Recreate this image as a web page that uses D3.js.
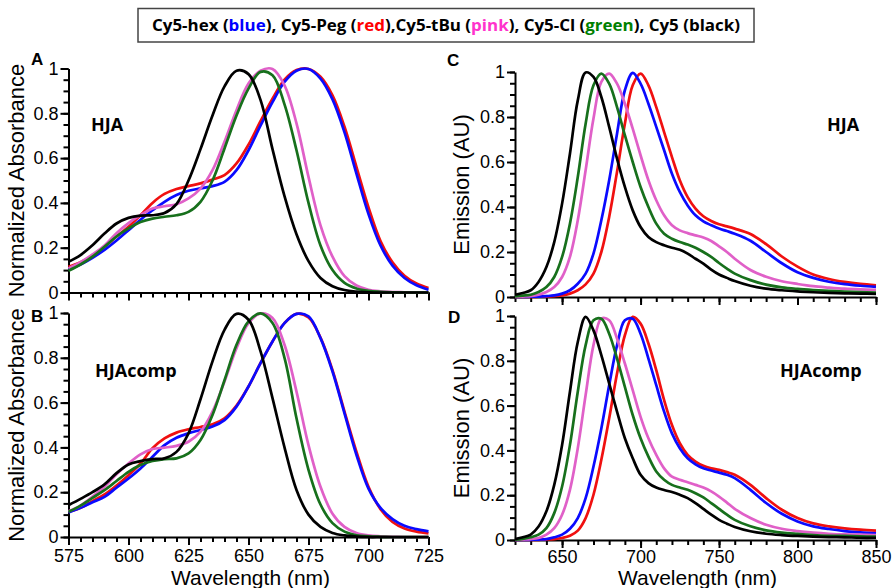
<!DOCTYPE html>
<html><head><meta charset="utf-8">
<script src="https://cdn.jsdelivr.net/npm/d3@7"></script>
<style>body{margin:0;background:#fff;} svg{display:block;}</style>
</head><body><svg id="c" width="893" height="588"></svg>
<script>
// ---------- DATA ----------
const absWl = [575,580,585,590,595,600,605,610,615,620,625,630,635,640,645,650,655,660,665,670,675,680,685,690,695,700,705,710,715,720,725];
const A_blue  = [.103,.125,.155,.19,.232,.278,.325,.367,.405,.435,.454,.465,.475,.494,.546,.635,.745,.85,.94,.99,.998,.955,.862,.715,.53,.35,.21,.12,.065,.032,.012];
const A_red   = [.115,.135,.165,.204,.25,.293,.345,.40,.44,.462,.475,.487,.504,.524,.576,.66,.765,.865,.95,.993,.998,.963,.88,.74,.56,.38,.23,.135,.075,.04,.02];
const A_pink  = [.107,.135,.17,.21,.265,.31,.345,.375,.385,.394,.42,.464,.546,.673,.814,.933,.99,.998,.925,.755,.516,.30,.16,.073,.031,.012,.005,.002,.001,0,0];
const A_green = [.097,.125,.16,.204,.25,.286,.315,.33,.338,.345,.36,.405,.50,.643,.79,.91,.985,.97,.84,.635,.40,.21,.10,.043,.018,.007,.003,.001,0,0,0];
const A_black = [.137,.167,.211,.263,.308,.333,.343,.345,.355,.395,.50,.64,.79,.92,.99,.975,.86,.64,.43,.26,.14,.065,.028,.011,.004,.001,0,0,0,0,0];

const B_blue  = [.109,.13,.155,.179,.22,.261,.306,.358,.41,.443,.463,.478,.493,.522,.582,.672,.776,.873,.955,.996,.985,.888,.739,.552,.366,.216,.13,.08,.05,.035,.025];
const B_red   = [.112,.13,.16,.19,.23,.276,.328,.396,.44,.466,.481,.491,.503,.53,.587,.672,.776,.873,.955,.996,.98,.89,.745,.56,.38,.224,.124,.067,.038,.024,.016];
const B_pink  = [.115,.14,.18,.224,.28,.328,.369,.393,.399,.407,.425,.47,.56,.694,.843,.955,.998,.978,.858,.649,.41,.224,.104,.045,.018,.007,.003,.001,0,0,0];
const B_green = [.112,.14,.175,.209,.25,.291,.321,.339,.348,.351,.373,.433,.545,.70,.858,.963,.998,.955,.8,.53,.30,.145,.062,.024,.008,.003,.001,0,0,0,0];
const B_black = [.142,.17,.2,.235,.285,.324,.339,.348,.351,.38,.463,.615,.784,.925,.996,.97,.83,.62,.40,.21,.10,.045,.018,.007,.002,0,0,0,0,0,0];

const emWl = [620,625,630,635,640,645,650,655,660,665,670,675,680,685,690,695,700,705,710,715,720,725,730,735,740,745,750,755,760,770,780,790,800,810,820,830,840,850];
const C_blue  = [0,0,.001,.002,.004,.007,.015,.03,.059,.104,.193,.341,.519,.726,.919,.996,.948,.859,.756,.652,.548,.467,.407,.363,.336,.319,.304,.293,.281,.25,.2,.15,.11,.085,.068,.057,.05,.045];
const C_red   = [0,0,0,.001,.002,.004,.007,.015,.03,.056,.104,.20,.356,.556,.77,.941,.993,.941,.844,.733,.622,.519,.444,.393,.359,.338,.323,.314,.304,.28,.235,.18,.135,.1,.08,.067,.058,.052];
const C_pink  = [0,.002,.004,.01,.022,.044,.089,.178,.341,.563,.793,.956,.993,.948,.859,.748,.63,.519,.43,.363,.319,.296,.284,.274,.264,.249,.225,.20,.17,.12,.09,.07,.058,.048,.042,.037,.034,.032];
const C_green = [.003,.006,.01,.022,.044,.089,.178,.326,.533,.77,.941,.993,.948,.844,.719,.60,.489,.40,.326,.281,.259,.244,.233,.219,.20,.178,.151,.126,.104,.075,.055,.043,.036,.031,.027,.024,.022,.02];
const C_black = [.01,.018,.03,.067,.133,.244,.415,.637,.874,.998,.978,.889,.756,.615,.489,.385,.311,.267,.244,.23,.219,.21,.193,.17,.148,.122,.10,.085,.071,.05,.037,.03,.025,.021,.018,.016,.015,.014];

const D_blue  = [0,0,.001,.002,.004,.012,.024,.05,.098,.187,.328,.498,.691,.869,.981,.988,.921,.81,.691,.573,.476,.41,.365,.338,.32,.31,.301,.291,.276,.224,.165,.117,.083,.061,.049,.04,.034,.03];
const D_red   = [0,0,0,.001,.002,.004,.009,.019,.042,.098,.202,.358,.543,.743,.914,.996,.966,.877,.758,.625,.513,.432,.38,.35,.331,.32,.313,.303,.291,.246,.187,.135,.098,.074,.061,.052,.046,.042];
const D_pink  = [0,.002,.004,.009,.024,.053,.113,.224,.41,.647,.87,.988,.981,.899,.788,.669,.55,.454,.38,.32,.283,.269,.258,.246,.234,.217,.194,.167,.139,.098,.068,.05,.04,.033,.028,.025,.024,.022];
const D_green = [.001,.005,.012,.024,.053,.12,.239,.424,.662,.87,.981,.988,.921,.81,.684,.558,.454,.372,.306,.269,.246,.234,.224,.209,.19,.165,.139,.113,.09,.061,.043,.033,.027,.022,.019,.018,.016,.015];
const D_black = [.004,.012,.024,.06,.128,.246,.424,.662,.884,.996,.936,.825,.699,.573,.454,.365,.291,.254,.234,.223,.214,.202,.187,.165,.139,.113,.09,.073,.058,.039,.028,.022,.018,.015,.013,.012,.01,.01];

const absTicks = [575,600,625,650,675,700,725];
const emTicks = [650,700,750,800,850];
const yTickVals = [0,0.2,0.4,0.6,0.8,1];
const yTickLabels = ["0","0.2","0.4","0.6","0.8","1"];
const seriesNames = ["red","blue","pink","green","black"];
const legendParts = [["Cy5-hex (","#000"],["blue","#0000ff"],["), Cy5-Peg (","#000"],["red","#ff0000"],["),Cy5-tBu (","#000"],["pink","#ff33cc"],["), Cy5-Cl (","#000"],["green","#008000"],["), Cy5 (black)","#000"]];

// ---------- DRAW ----------
const colors = {blue:"#0a0aff", red:"#f01010", pink:"#e060c8", green:"#17701c", black:"#000000"};
const svg = d3.select("#c");
const AX = "Liberation Sans, Arial, sans-serif";

function panel(o) {
  const x = d3.scaleLinear().domain(o.xd).range([o.x0, o.x1]);
  const y = d3.scaleLinear().domain([0,1]).range([o.y0, o.y1]);
  const g = svg.append("g");
  g.append("g").attr("transform",`translate(${o.x0},0)`)
    .call(d3.axisLeft(y).tickValues(d3.range(0,1.0001,0.05)).tickSize(5).tickFormat(""))
    .call(s=>s.select(".domain").remove());
  g.append("g").attr("transform",`translate(0,${o.y0})`)
    .call(d3.axisBottom(x).tickValues(d3.range(o.xd[0],o.xd[1]+0.01,o.minor)).tickSize(5).tickFormat(""))
    .call(s=>s.select(".domain").remove());
  const ya = g.append("g").attr("transform",`translate(${o.x0},0)`)
    .call(d3.axisLeft(y).tickValues(yTickVals).tickSize(8).tickSizeOuter(0).tickPadding(2)
      .tickFormat((d,i)=>yTickLabels[i]));
  const xa = g.append("g").attr("transform",`translate(0,${o.y0})`)
    .call(d3.axisBottom(x).tickValues(o.ticks).tickSize(8).tickSizeOuter(0).tickPadding(o.pad)
      .tickFormat(o.xlabels ? d3.format("d") : ""));
  [ya,xa].forEach(a=>{
    a.selectAll("path,line").attr("stroke","#000").attr("stroke-width",2);
    a.selectAll("text").attr("font-family",AX).attr("font-size",18).attr("fill","#000");
  });
  g.selectAll("line").attr("stroke","#000").attr("stroke-width",2);
  const line = d3.line().x((d,i)=>x(o.wl[i])).y(d=>y(d)).curve(d3.curveCatmullRom.alpha(0.5));
  seriesNames.forEach(n=>{
    g.append("path").datum(o.data[n]).attr("d",line)
      .attr("fill","none").attr("stroke",colors[n]).attr("stroke-width",2.7)
      .attr("stroke-linejoin","round");
  });
  g.append("text").attr("x",o.lx).attr("y",o.ly).text(o.letter)
    .attr("font-family",AX).attr("font-weight","bold").attr("font-size",17);
  g.append("text").attr("x",o.tx).attr("y",o.ty).text(o.tag)
    .attr("font-family","Open Sans, sans-serif").attr("font-weight","bold").attr("font-size",18);
  g.append("text").attr("transform",`translate(${o.yTitleX},${(o.y0+o.y1)/2}) rotate(-90)`)
    .attr("text-anchor","middle").attr("font-family",AX).attr("font-size",22).text(o.ytitle);
  if (o.xlabels) {
    g.append("text").attr("x",(o.x0+o.x1)/2+2).attr("y",585).attr("text-anchor","middle")
      .attr("font-family",AX).attr("font-size",21).text("Wavelength (nm)");
  }
}

panel({xd:[575,725], x0:68.5, x1:428.5, y0:292.5, y1:68.5, minor:5, ticks:absTicks, xlabels:false, pad:7, wl:absWl,
  data:{blue:A_blue,red:A_red,pink:A_pink,green:A_green,black:A_black}, letter:"A", lx:31, ly:65,
  tag:"HJA", tx:91, ty:131, ytitle:"Normalized Absorbance", yTitleX:24});
panel({xd:[575,725], x0:68.5, x1:428.5, y0:537, y1:313, minor:5, ticks:absTicks, xlabels:true, pad:4, wl:absWl,
  data:{blue:B_blue,red:B_red,pink:B_pink,green:B_green,black:B_black}, letter:"B", lx:31, ly:322,
  tag:"HJAcomp", tx:95, ty:377, ytitle:"Normalized Absorbance", yTitleX:24});
panel({xd:[620,850], x0:515, x1:876, y0:297, y1:72, minor:10, ticks:emTicks, xlabels:false, pad:5, wl:emWl,
  data:{blue:C_blue,red:C_red,pink:C_pink,green:C_green,black:C_black}, letter:"C", lx:447, ly:66,
  tag:"HJA", tx:827, ty:131, ytitle:"Emission (AU)", yTitleX:469});
panel({xd:[620,850], x0:515, x1:876, y0:540, y1:316, minor:10, ticks:emTicks, xlabels:true, pad:2, wl:emWl,
  data:{blue:D_blue,red:D_red,pink:D_pink,green:D_green,black:D_black}, letter:"D", lx:448, ly:323,
  tag:"HJAcomp", tx:780, ty:377, ytitle:"Emission (AU)", yTitleX:469});

// legend
svg.append("rect").attr("x",138).attr("y",8.5).attr("width",616).attr("height",33.5)
  .attr("fill","#fff").attr("stroke","#444").attr("stroke-width",1.5);
const lt = svg.append("text").attr("x",446).attr("y",31).attr("text-anchor","middle")
  .attr("font-family","Open Sans, sans-serif").attr("font-weight","bold").attr("font-size",16)
  .attr("textLength",588).attr("lengthAdjust","spacingAndGlyphs");
legendParts.forEach(p=>lt.append("tspan").attr("fill",p[1]).text(p[0]));
</script></body></html>
